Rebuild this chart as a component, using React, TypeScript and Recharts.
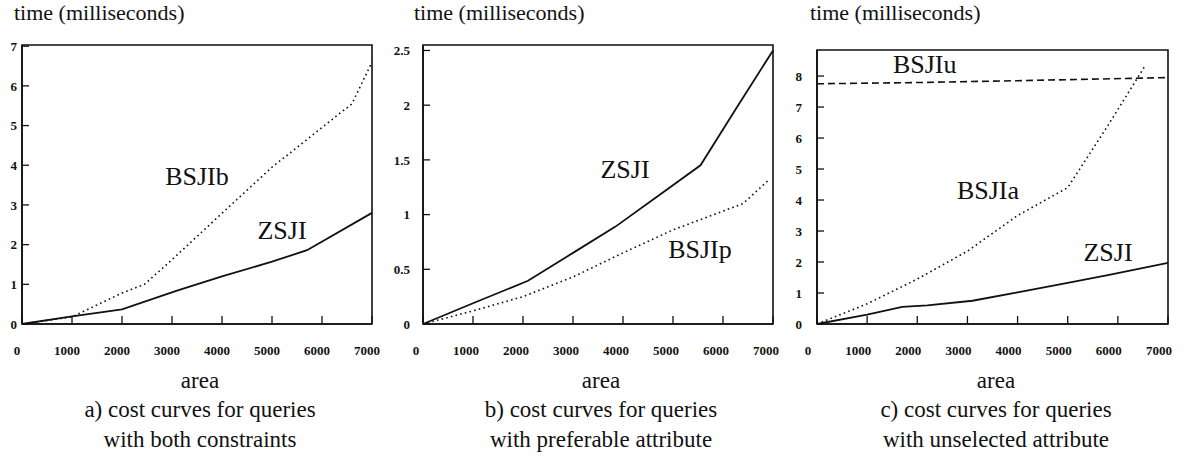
import { LineChart, Line, XAxis, YAxis, ReferenceArea, ReferenceDot } from "recharts";

const SERIF = '"Liberation Serif", "Times New Roman", Times, serif';
const INK = "#111";

const areaTicks = [0, 1000, 2000, 3000, 4000, 5000, 6000, 7000];

// a) both constraints
const aZsjiArea = [0, 1000, 2000, 3100, 4000, 5000, 5700, 7000];
const aZsjiTime = [0, 0.19, 0.37, 0.84, 1.2, 1.57, 1.86, 2.8];
const aBsjibArea = [0, 1000, 2000, 2450, 3000, 4000, 5000, 6000, 6600, 7000];
const aBsjibTime = [0, 0.18, 0.78, 1.0, 1.62, 2.79, 3.95, 4.95, 5.55, 6.6];
const aTimeTicks = [0, 1, 2, 3, 4, 5, 6, 7];

// b) preferable attribute
const bZsjiArea = [0, 1000, 2100, 3000, 3850, 4700, 5550, 6250, 7000];
const bZsjiTime = [0, 0.19, 0.395, 0.65, 0.89, 1.17, 1.45, 1.96, 2.5];
const bBsjipArea = [0, 1000, 2000, 2500, 3000, 4000, 5000, 6400, 6900];
const bBsjipTime = [0, 0.12, 0.25, 0.34, 0.43, 0.65, 0.86, 1.1, 1.31];
const bTimeTicks = [0, 0.5, 1, 1.5, 2, 2.5];

// c) unselected attribute
const cZsjiArea = [0, 1000, 1700, 2200, 3100, 4000, 5000, 5800, 7000];
const cZsjiTime = [0, 0.3, 0.55, 0.6, 0.75, 1.02, 1.33, 1.58, 1.97];
const cBsjiaArea = [0, 1000, 2000, 3000, 4000, 5000, 5800, 6550];
const cBsjiaTime = [0, 0.65, 1.45, 2.35, 3.5, 4.4, 6.4, 8.35];
const cBsjiuArea = [0, 2000, 4000, 7000];
const cBsjiuTime = [7.75, 7.79, 7.85, 7.95];
const cTimeTicks = [0, 1, 2, 3, 4, 5, 6, 7, 8];

const zip = (xs: number[], ys: number[]) => xs.map((area, i) => ({ area, time: ys[i] }));

type Series = { name: string; data: { area: number; time: number }[]; dash?: string };
type Note = { text: string; area: number; time: number };

interface PanelProps {
  left: number;
  width: number;
  top: number;
  right: number;
  yWidth: number;
  yMax: number;
  yTicks: number[];
  xDx: number;
  yGap: number;
  series: Series[];
  notes: Note[];
}

function Panel({ left, width, top, right, yWidth, yMax, yTicks, xDx, yGap, series, notes }: PanelProps) {
  const height = 365;
  return (
    <div style={{ position: "absolute", left, top: 0 }}>
      <LineChart width={width} height={height} margin={{ top, right, left: 20, bottom: 0 }}>
        <XAxis
          dataKey="area"
          type="number"
          domain={[0, 7000]}
          ticks={areaTicks}
          height={height - 324}
          axisLine={{ stroke: INK, strokeWidth: 1.6 }}
          tickLine={{ stroke: INK, strokeWidth: 1.3 }}
          tickSize={-8}
          tickMargin={30}
          allowDuplicatedCategory={false}
          tick={(p: any) => (
            <text x={p.x + xDx} y={p.y} dy="0.71em" textAnchor="middle" fontSize={13} fontWeight="bold" fontFamily={SERIF} fill={INK}>
              {p.payload.value}
            </text>
          )}
        />
        <YAxis
          type="number"
          domain={[0, yMax]}
          ticks={yTicks}
          width={yWidth}
          axisLine={{ stroke: INK, strokeWidth: 1.6 }}
          tickLine={{ stroke: INK, strokeWidth: 1.3 }}
          tickSize={-7}
          tickMargin={7 + yGap}
          tick={(p: any) => (
            <text x={p.x} y={p.y} dy="0.36em" textAnchor="end" fontSize={13} fontWeight="bold" fontFamily={SERIF} fill={INK}>
              {p.payload.value}
            </text>
          )}
        />
        <ReferenceArea x1={0} x2={7000} y1={0} y2={yMax} fill="none" stroke={INK} strokeWidth={1.6} />
        {series.map((s) => (
          <Line
            key={s.name}
            data={s.data}
            dataKey="time"
            type="linear"
            stroke={INK}
            strokeWidth={s.dash ? 1.6 : 1.8}
            strokeDasharray={s.dash}
            dot={false}
            activeDot={false}
            isAnimationActive={false}
          />
        ))}
        {notes.map((n) => (
          <ReferenceDot
            key={n.text}
            x={n.area}
            y={n.time}
            r={0}
            fill="none"
            stroke="none"
            label={{ value: n.text, position: "center", fontSize: 26, fill: INK, fontFamily: SERIF }}
          />
        ))}
      </LineChart>
    </div>
  );
}

const textStyle = { position: "absolute" as const, fontFamily: SERIF, color: INK, fontSize: 23, lineHeight: "30px", whiteSpace: "nowrap" as const };

function Caption({ center, lines }: { center: number; lines: string[] }) {
  return (
    <>
      <div style={{ ...textStyle, left: center - 150, width: 300, textAlign: "center", top: 366 }}>area</div>
      <div style={{ ...textStyle, left: center - 150, width: 300, textAlign: "center", top: 395 }}>
        {lines.map((l) => (
          <div key={l}>{l}</div>
        ))}
      </div>
    </>
  );
}

export default function App() {
  return (
    <div style={{ position: "absolute", left: 0, top: 0, width: 1190, height: 458, background: "#fff", overflow: "hidden" }}>
      <div style={{ ...textStyle, fontSize: 22, left: 14, top: -2 }}>time (milliseconds)</div>
      <div style={{ ...textStyle, fontSize: 22, left: 414, top: -2 }}>time (milliseconds)</div>
      <div style={{ ...textStyle, fontSize: 22, left: 810, top: -2 }}>time (milliseconds)</div>

      <Panel
        left={-20}
        width={410}
        top={45}
        right={18}
        yWidth={22}
        yMax={7.03}
        yTicks={aTimeTicks}
        xDx={-5}
        yGap={5}
        series={[
          { name: "ZSJI", data: zip(aZsjiArea, aZsjiTime) },
          { name: "BSJIb", data: zip(aBsjibArea, aBsjibTime), dash: "1.6 3.2" },
        ]}
        notes={[
          { text: "BSJIb", area: 3500, time: 3.73 },
          { text: "ZSJI", area: 5200, time: 2.37 },
        ]}
      />
      <Panel
        left={380}
        width={410}
        top={45}
        right={17}
        yWidth={23}
        yMax={2.55}
        yTicks={bTimeTicks}
        xDx={-7}
        yGap={13}
        series={[
          { name: "ZSJI", data: zip(bZsjiArea, bZsjiTime) },
          { name: "BSJIp", data: zip(bBsjipArea, bBsjipTime), dash: "1.6 3.2" },
        ]}
        notes={[
          { text: "ZSJI", area: 4040, time: 1.42 },
          { text: "BSJIp", area: 5540, time: 0.69 },
        ]}
      />
      <Panel
        left={775}
        width={415}
        top={50}
        right={22}
        yWidth={22}
        yMax={8.84}
        yTicks={cTimeTicks}
        xDx={-9}
        yGap={15}
        series={[
          { name: "ZSJI", data: zip(cZsjiArea, cZsjiTime) },
          { name: "BSJIa", data: zip(cBsjiaArea, cBsjiaTime), dash: "1.6 3.2" },
          { name: "BSJIu", data: zip(cBsjiuArea, cBsjiuTime), dash: "7 4" },
        ]}
        notes={[
          { text: "BSJIu", area: 2148, time: 8.41 },
          { text: "BSJIa", area: 3410, time: 4.32 },
          { text: "ZSJI", area: 5804, time: 2.33 },
        ]}
      />

      <Caption center={200} lines={["a) cost curves for queries", "with both constraints"]} />
      <Caption center={601} lines={["b) cost curves for queries", "with preferable attribute"]} />
      <Caption center={996} lines={["c) cost curves for queries", "with unselected attribute"]} />
    </div>
  );
}
